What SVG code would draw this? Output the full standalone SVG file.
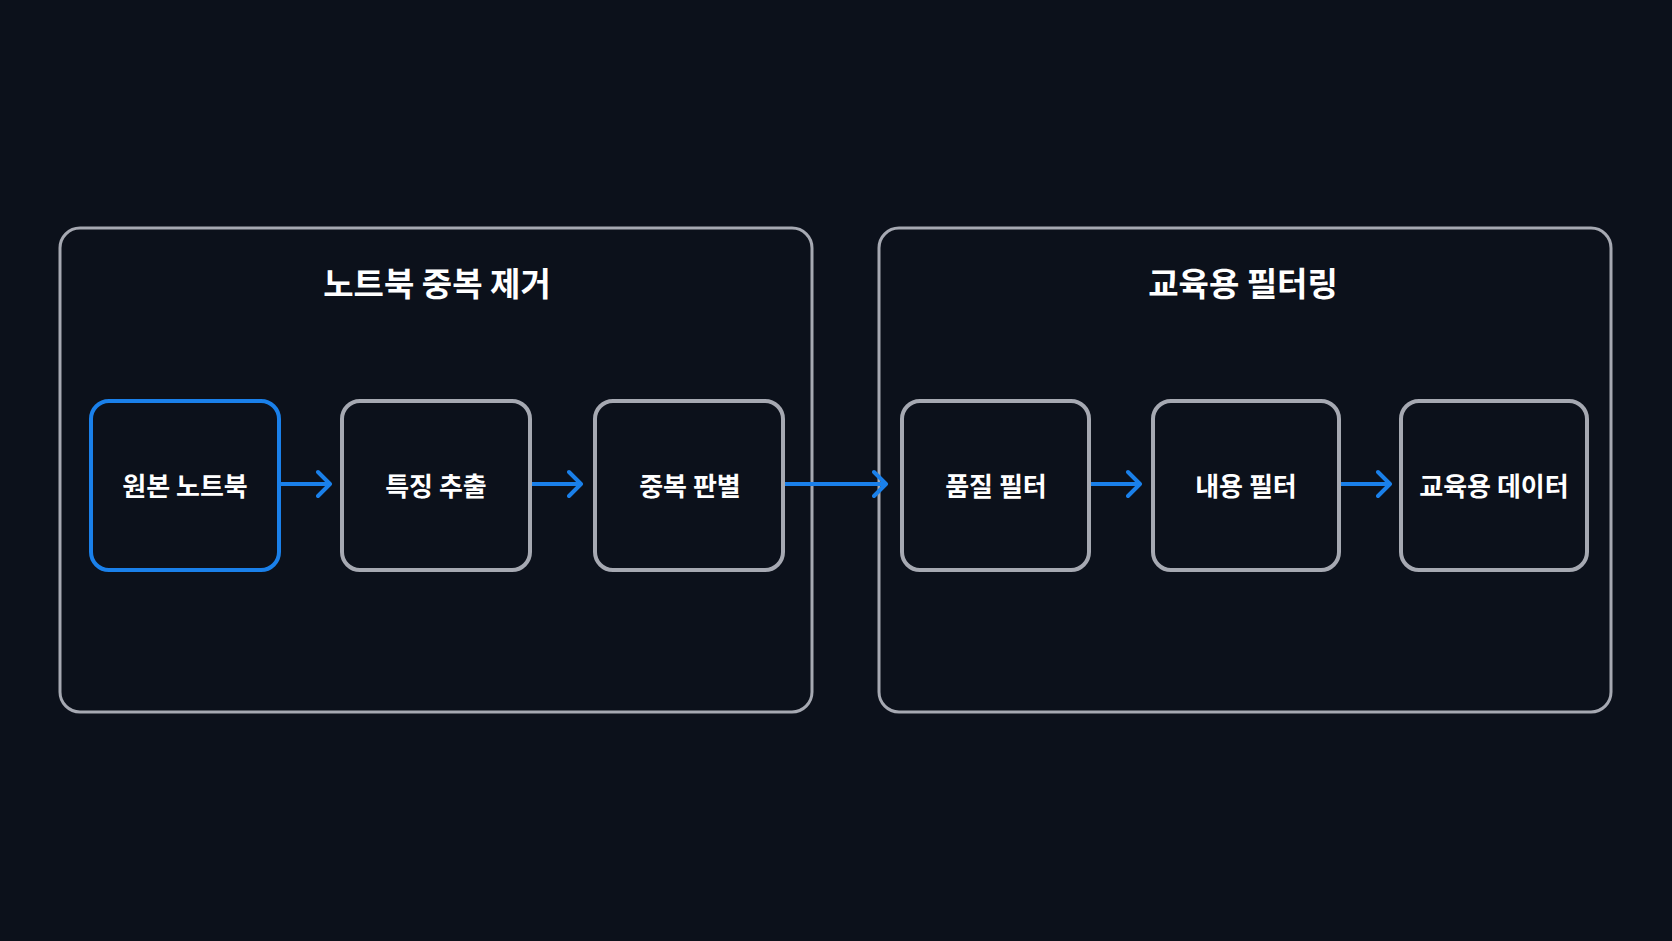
<svg xmlns="http://www.w3.org/2000/svg" width="1672" height="941" viewBox="0 0 1672 941">
  <defs>
    <style>
      .bg { fill: #0c111b; }
      .container { fill: #0c111b; stroke: #a6a9b2; stroke-width: 3; }
      .node { fill: #0c111b; stroke: #a6a9b2; stroke-width: 4; }
      .node.active { stroke: #1a80ea; }
      .title { font-family: "Noto Sans CJK KR", "Noto Sans", sans-serif; font-weight: 700; font-size: 33px; fill: #ffffff; text-anchor: middle; dominant-baseline: central; }
      .label { font-family: "Noto Sans CJK KR", "Noto Sans", sans-serif; font-weight: 700; font-size: 26px; fill: #ffffff; text-anchor: middle; dominant-baseline: central; }
      .edge { fill: none; stroke: #1a80ea; stroke-width: 4; }
    </style>
    <marker id="chev" markerUnits="userSpaceOnUse" markerWidth="20" markerHeight="30" viewBox="-14 -14 20 28" refX="0" refY="0" orient="auto">
      <path d="M-12,-12 L0,0 L-12,12" fill="none" stroke="#1a80ea" stroke-width="4" stroke-linecap="round" stroke-linejoin="round"/>
    </marker>
  </defs>
  <rect class="bg" x="0" y="0" width="1672" height="941"/>

  <g id="group-dedup">
    <rect class="container" x="60" y="228" width="752" height="484" rx="20"/>
    <text class="title" x="437" y="282">노트북 중복 제거</text>
  </g>
  <g id="group-edu">
    <rect class="container" x="879" y="228" width="732" height="484" rx="20"/>
    <text class="title" x="1243" y="282">교육용 필터링</text>
  </g>

  <g id="n1">
    <rect class="node active" x="91" y="401" width="188" height="169" rx="18"/>
    <text class="label" x="185" y="484">원본 노트북</text>
  </g>
  <g id="n2">
    <rect class="node" x="342" y="401" width="188" height="169" rx="18"/>
    <text class="label" x="436" y="484">특징 추출</text>
  </g>
  <g id="n3">
    <rect class="node" x="595" y="401" width="188" height="169" rx="18"/>
    <text class="label" x="690" y="484">중복 판별</text>
  </g>
  <g id="n4">
    <rect class="node" x="902" y="401" width="187" height="169" rx="18"/>
    <text class="label" x="996" y="484">품질 필터</text>
  </g>
  <g id="n5">
    <rect class="node" x="1153" y="401" width="186" height="169" rx="18"/>
    <text class="label" x="1246" y="484">내용 필터</text>
  </g>
  <g id="n6">
    <rect class="node" x="1401" y="401" width="186" height="169" rx="18"/>
    <text class="label" x="1494" y="484">교육용 데이터</text>
  </g>

  <g id="connectors">
    <path class="edge" d="M281,484 L330,484" marker-end="url(#chev)"/>
    <path class="edge" d="M532,484 L581,484" marker-end="url(#chev)"/>
    <path class="edge" d="M785,484 L886,484" marker-end="url(#chev)"/>
    <path class="edge" d="M1091,484 L1140,484" marker-end="url(#chev)"/>
    <path class="edge" d="M1341,484 L1390,484" marker-end="url(#chev)"/>
  </g>
</svg>
